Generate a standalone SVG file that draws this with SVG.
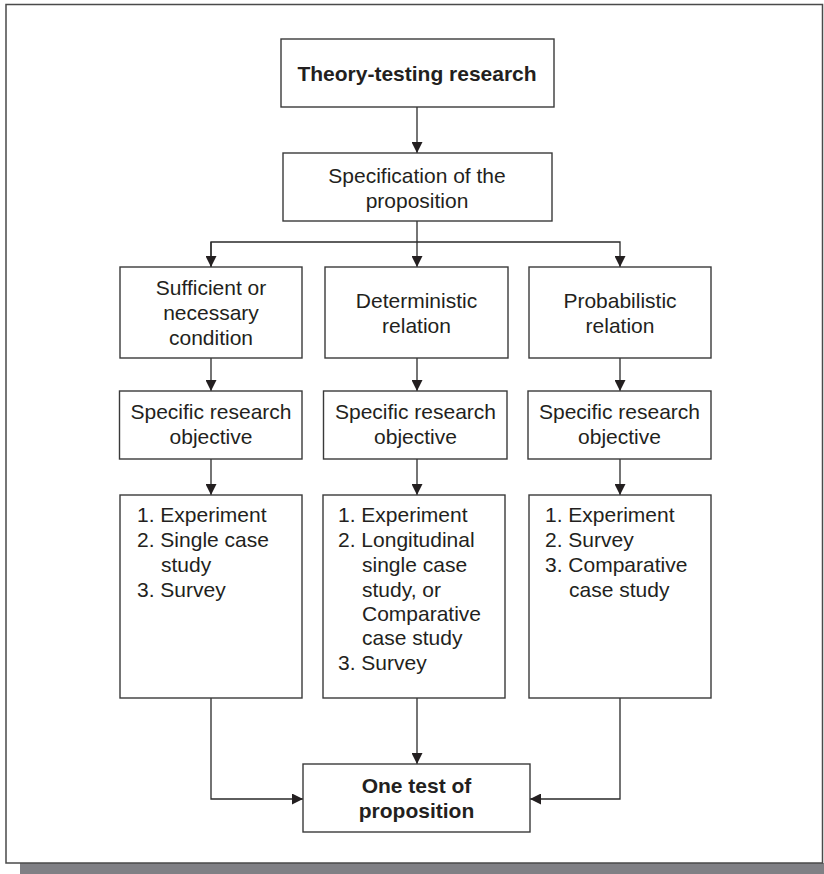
<svg xmlns="http://www.w3.org/2000/svg" width="824" height="874" viewBox="0 0 824 874">
<defs>
<style>
.box{fill:#fff;stroke:#3a3a3a;stroke-width:1.4}
.t{font-family:"Liberation Sans",Arial,sans-serif;font-size:21px;fill:#231f20}
.c{text-anchor:middle}
.b{font-weight:bold}
.conn{fill:none;stroke:#2a2a2a;stroke-width:1.3}
</style>
<marker id="ah" viewBox="0 0 10 10" refX="10" refY="5" markerWidth="11" markerHeight="11" markerUnits="userSpaceOnUse" orient="auto">
<path d="M0,0 L10,5 L0,10 z" fill="#231f20"/>
</marker>
</defs>
<rect x="0" y="0" width="824" height="874" fill="#fff"/>
<rect x="20" y="863" width="804" height="11" fill="#808085"/>
<rect x="6" y="4.5" width="816.5" height="858.5" fill="#fff" stroke="#4a4a4a" stroke-width="1.5"/>

<g id="connectors" class="conn">
<path d="M417,107 V153" marker-end="url(#ah)"/>
<path d="M417,221 V267" marker-end="url(#ah)"/>
<path d="M211,267 V242 H620 V267" marker-end="url(#ah)"/>
<path d="M211,242 V267" marker-end="url(#ah)"/>
<path d="M211,358 V391" marker-end="url(#ah)"/>
<path d="M417,358 V391" marker-end="url(#ah)"/>
<path d="M620,358 V391" marker-end="url(#ah)"/>
<path d="M211,459 V495" marker-end="url(#ah)"/>
<path d="M417,459 V495" marker-end="url(#ah)"/>
<path d="M620,459 V495" marker-end="url(#ah)"/>
<path d="M211,698 V799 H303" marker-end="url(#ah)"/>
<path d="M417,698 V764" marker-end="url(#ah)"/>
<path d="M620,698 V799 H530" marker-end="url(#ah)"/>
</g>

<g id="theory">
<rect class="box" x="281" y="39" width="273" height="68"/>
<text class="t c b" x="417" y="81">Theory-testing research</text>
</g>
<g id="specification">
<rect class="box" x="283" y="153" width="269" height="68"/>
<text class="t c" x="417" y="183">Specification of the</text>
<text class="t c" x="417" y="208">proposition</text>
</g>

<g id="sufficient">
<rect class="box" x="120" y="267" width="182" height="91"/>
<text class="t c" x="211" y="295">Sufficient or</text>
<text class="t c" x="211" y="320">necessary</text>
<text class="t c" x="211" y="345">condition</text>
</g>
<g id="deterministic">
<rect class="box" x="325" y="267" width="183" height="91"/>
<text class="t c" x="416.5" y="308">Deterministic</text>
<text class="t c" x="416.5" y="333">relation</text>
</g>
<g id="probabilistic">
<rect class="box" x="529" y="267" width="182" height="91"/>
<text class="t c" x="620" y="308">Probabilistic</text>
<text class="t c" x="620" y="333">relation</text>
</g>

<g id="objective1">
<rect class="box" x="119.5" y="391" width="182.5" height="68"/>
<text class="t c" x="211" y="419">Specific research</text>
<text class="t c" x="211" y="444">objective</text>
</g>
<g id="objective2">
<rect class="box" x="323.5" y="391" width="183.5" height="68"/>
<text class="t c" x="415.5" y="419">Specific research</text>
<text class="t c" x="415.5" y="444">objective</text>
</g>
<g id="objective3">
<rect class="box" x="528" y="391" width="183" height="68"/>
<text class="t c" x="619.5" y="419">Specific research</text>
<text class="t c" x="619.5" y="444">objective</text>
</g>

<g id="methods1">
<rect class="box" x="120" y="495" width="182" height="203"/>
<text class="t" x="137" y="522">1. Experiment</text>
<text class="t" x="137" y="547">2. Single case</text>
<text class="t" x="161" y="572">study</text>
<text class="t" x="137" y="597">3. Survey</text>
</g>
<g id="methods2">
<rect class="box" x="323" y="495" width="182" height="203"/>
<text class="t" x="338" y="522">1. Experiment</text>
<text class="t" x="338" y="547">2. Longitudinal</text>
<text class="t" x="362" y="572">single case</text>
<text class="t" x="362" y="597">study, or</text>
<text class="t" x="362" y="621">Comparative</text>
<text class="t" x="362" y="645">case study</text>
<text class="t" x="338" y="670">3. Survey</text>
</g>
<g id="methods3">
<rect class="box" x="529" y="495" width="182" height="203"/>
<text class="t" x="545" y="522">1. Experiment</text>
<text class="t" x="545" y="547">2. Survey</text>
<text class="t" x="545" y="572">3. Comparative</text>
<text class="t" x="569" y="597">case study</text>
</g>

<g id="onetest">
<rect class="box" x="303" y="764" width="227" height="68"/>
<text class="t c b" x="416.5" y="793">One test of</text>
<text class="t c b" x="416.5" y="818">proposition</text>
</g>
</svg>
